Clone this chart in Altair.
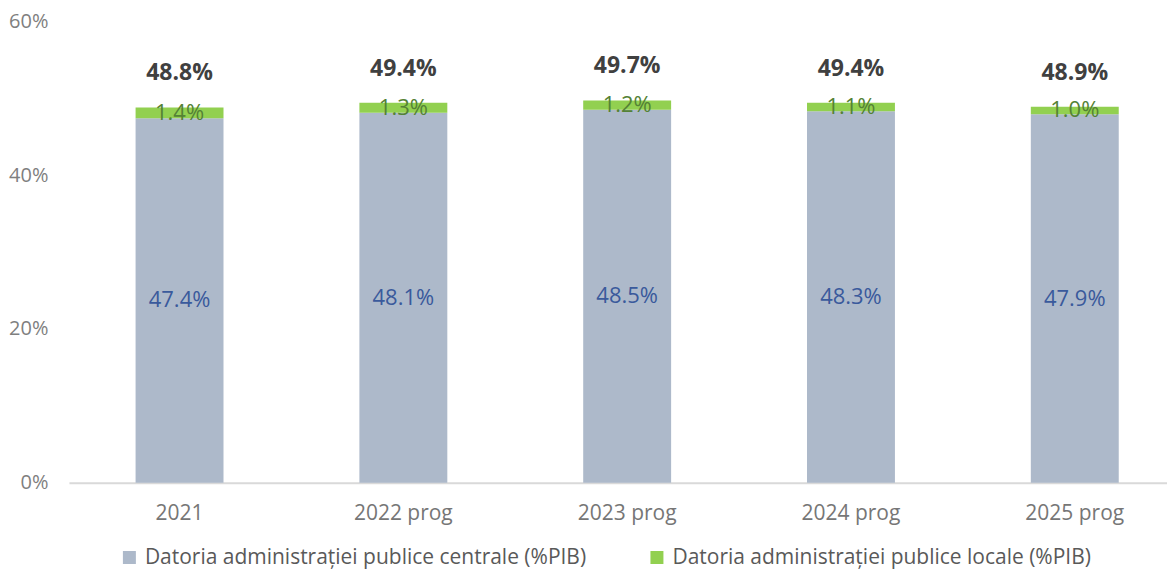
import altair as alt
import pandas as pd

years = ["2021", "2022 prog", "2023 prog", "2024 prog", "2025 prog"]
central = [47.4, 48.1, 48.5, 48.3, 47.9]
local = [1.4, 1.3, 1.2, 1.1, 1.0]
totals = [48.8, 49.4, 49.7, 49.4, 48.9]
series = ["Datoria administrației publice centrale (%PIB)",
          "Datoria administrației publice locale (%PIB)"]
colors = ["#ADB9CA", "#92D050"]

FONT = "Open Sans"

rows = []
for i, yr in enumerate(years):
    rows.append(dict(year=yr, series=series[0], order=0, y0=0.0, y1=central[i],
                     mid=central[i] / 2, label=f"{central[i]:.1f}%"))
    rows.append(dict(year=yr, series=series[1], order=1, y0=central[i],
                     y1=central[i] + local[i], mid=central[i] + local[i] / 2,
                     label=f"{local[i]:.1f}%"))
df = pd.DataFrame(rows)
tot = pd.DataFrame(dict(year=years, total=totals,
                        label=[f"{t:.1f}%" for t in totals]))

xscale = alt.Scale(domain=years, paddingInner=0.607, paddingOuter=0.2566, align=0.58)
yscale = alt.Scale(domain=[0, 60], nice=False)

x = alt.X("year:N", scale=xscale, sort=years,
          axis=alt.Axis(title=None, labelAngle=0, ticks=False, domain=True,
                        domainColor="#D9D9D9", domainWidth=2,
                        labelFontSize=21, labelColor="#767676", labelFont=FONT,
                        labelPadding=20))

bars = alt.Chart(df).mark_bar(size=88).encode(
    x=x,
    y=alt.Y("y0:Q", scale=yscale,
            axis=alt.Axis(title=None, values=[0, 20, 40, 60], grid=False,
                          ticks=False, domain=False, labelExpr="datum.value + '%'",
                          labelFontSize=20, labelColor="#7F7F7F", labelFont=FONT,
                          labelPadding=21)),
    y2="y1:Q",
    color=alt.Color("series:N", scale=alt.Scale(domain=series, range=colors),
                    legend=alt.Legend(title=None, orient="none", direction="horizontal",
                                      legendX=50, legendY=526,
                                      symbolType="square", symbolSize=169,
                                      symbolStrokeWidth=0, labelFontSize=21,
                                      labelFont=FONT, labelColor="#595959",
                                      labelLimit=700, labelOffset=5,
                                      columnPadding=60)),
    order="order:Q",
)

central_text = alt.Chart(df[df.order == 0]).mark_text(
    fontSize=22, font=FONT, color="#3A5A9C", baseline="middle"
).encode(x=alt.X("year:N", scale=xscale, sort=years), y=alt.Y("mid:Q", scale=yscale),
         text="label:N")

local_text = alt.Chart(df[df.order == 1]).mark_text(
    fontSize=22, font=FONT, color="#548235", baseline="middle"
).encode(x=alt.X("year:N", scale=xscale, sort=years), y=alt.Y("mid:Q", scale=yscale),
         text="label:N")

total_text = alt.Chart(tot).mark_text(
    fontSize=23, font=FONT, fontWeight="bold", color="#404040", baseline="middle", dy=-34
).encode(x=alt.X("year:N", scale=xscale, sort=years), y=alt.Y("total:Q", scale=yscale),
         text="label:N")

chart = alt.layer(bars, central_text, local_text, total_text).properties(
    width=1099, height=462,
    autosize=alt.AutoSizeParams(type="none"),
    padding={"left": 61, "top": 13, "right": 0, "bottom": 88},
).configure_view(stroke=None)

chart.save("out.html", embed_options={"renderer": "svg", "actions": False})
